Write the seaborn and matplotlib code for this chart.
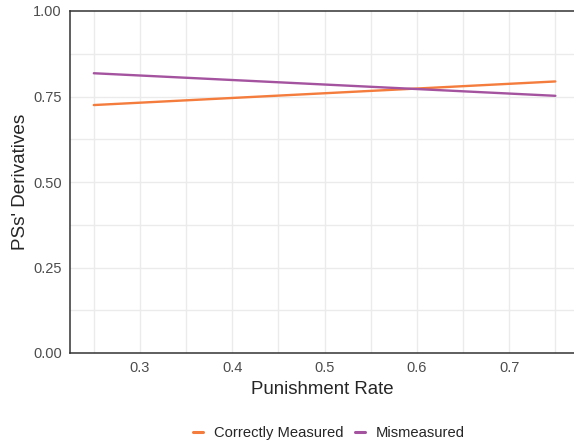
import numpy as np
import pandas as pd
import matplotlib
matplotlib.use("Agg")
import matplotlib.pyplot as plt
import seaborn as sns

# ── Data ───────────────────────────────────────────────────
rate        = [0.25, 0.50, 0.75]
correct     = [0.725, 0.7595, 0.794]
mismeasured = [0.818, 0.785, 0.752]
groups      = ["Correctly Measured", "Mismeasured"]
COLORS      = ["#F47C3C", "#A4539F"]

x_ticks = [0.3, 0.4, 0.5, 0.6, 0.7]
y_ticks = [0.00, 0.25, 0.50, 0.75, 1.00]

df = pd.DataFrame({
    "rate": rate * 2,
    "deriv": correct + mismeasured,
    "group": [groups[0]] * len(rate) + [groups[1]] * len(rate),
})

# ── Plot ───────────────────────────────────────────────────
sns.set_style("white")
plt.rcParams["font.family"] = ["Liberation Sans", "DejaVu Sans"]

W, H = 574, 447
fig = plt.figure(figsize=(W / 100, H / 100), dpi=100)
ax = fig.add_axes([70 / W, 1 - 353 / H, (574 - 70) / W, (353 - 11) / H])

# grid
for v in np.arange(0.25, 0.80, 0.05):
    ax.axvline(v, color="#EBEBEB", lw=1.0, zorder=0)
for v in np.arange(0.125, 1.0, 0.125):
    ax.axhline(v, color="#EBEBEB", lw=1.0, zorder=0)

sns.lineplot(data=df, x="rate", y="deriv", hue="group", hue_order=groups,
             palette=COLORS, lw=1.7, ax=ax, legend=False, zorder=3)

ax.set_xlim(0.2242, 0.7702)
ax.set_ylim(0, 1)
ax.set_xticks(x_ticks)
ax.set_xticklabels([f"{v:.1f}" for v in x_ticks])
ax.set_yticks(y_ticks)
ax.set_yticklabels([f"{v:.2f}" for v in y_ticks])
ax.tick_params(axis="both", length=4, width=1, color="#333333",
               labelsize=10.5, labelcolor="#4D4D4D", pad=2)

ax.spines["right"].set_visible(False)
for s in ["left", "bottom", "top"]:
    ax.spines[s].set_color("#333333")
    ax.spines[s].set_linewidth(1.1)

ax.set_xlabel("Punishment Rate", fontsize=13.4, labelpad=4)
ax.set_ylabel("PSs' Derivatives", fontsize=13.6)
ax.yaxis.set_label_coords(-0.082, 0.5)

handles = [plt.Line2D([], [], color=c, lw=2.2) for c in COLORS]
fig.legend(handles, groups, loc="center", bbox_to_anchor=(329 / W, 1 - 433 / H),
           ncol=2, frameon=False, fontsize=10.6, handlelength=0.68,
           handletextpad=0.75, columnspacing=0.75)

plt.savefig("out.png", dpi=100)
plt.close()
